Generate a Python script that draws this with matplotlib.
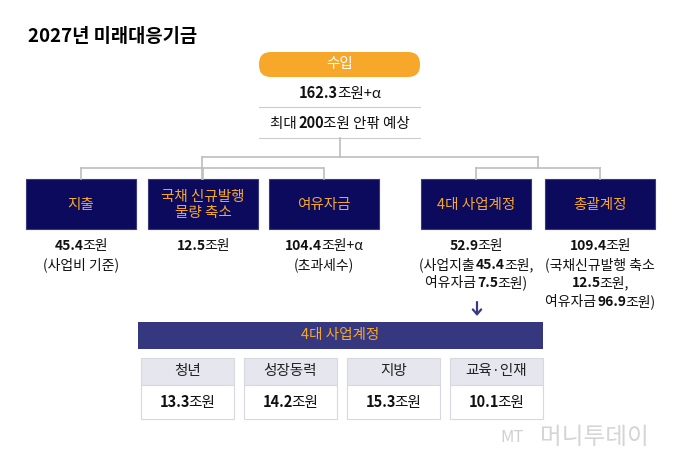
import re
import matplotlib
matplotlib.use("Agg")
import matplotlib.pyplot as plt
from matplotlib.patches import Rectangle, FancyBboxPatch
from matplotlib.offsetbox import TextArea, HPacker, AnnotationBbox

plt.rcParams['font.family'] = ['Noto Sans CJK KR', 'DejaVu Sans']

title = "2027년 미래대응기금"
income_label = "수입"
income_value = "162.3조원+α"
income_note = "최대 200조원 안팎 예상"
top_labels = ["지출", "국채 신규발행\n물량 축소", "여유자금", "4대 사업계정", "총괄계정"]
top_values = [
    ["45.4조원", "(사업비 기준)"],
    ["12.5조원"],
    ["104.4조원+α", "(초과세수)"],
    ["52.9조원", "(사업지출 45.4조원,", "여유자금 7.5조원)"],
    ["109.4조원", "(국채신규발행 축소", "12.5조원,", "여유자금 96.9조원)"],
]
sub_title = "4대 사업계정"
sub_labels = ["청년", "성장동력", "지방", "교육·인재"]
sub_values = ["13.3조원", "14.2조원", "15.3조원", "10.1조원"]

NAVY = "#0c0a5c"
ORANGE = "#f7a82a"
GRAY = "#bdbdbd"

fig = plt.figure(figsize=(6.8, 4.63), dpi=100)
ax = fig.add_axes([0, 0, 1, 1])
ax.set_xlim(0, 680); ax.set_ylim(463, 0); ax.axis('off')

def rich(x, y, s, size=10):
    parts = re.split(r'(\d+(?:\.\d+)?)', s)
    boxes = []
    for p in parts:
        if not p:
            continue
        bold = bool(re.fullmatch(r'\d+(?:\.\d+)?', p))
        p = p.replace(' ', '\u00a0')
        boxes.append(TextArea(p, textprops=dict(fontsize=size, color='#111111',
                                                fontweight='bold' if bold else 'normal')))
    pk = HPacker(children=boxes, pad=0, sep=-1, align='baseline')
    ab = AnnotationBbox(pk, (x, y), frameon=False, box_alignment=(0.5, 0.5), pad=0)
    ax.add_artist(ab)

ax.text(28, 37, title, fontsize=13.5, fontweight='bold', va='center', ha='left')

ax.add_patch(FancyBboxPatch((259, 52), 161, 25, boxstyle="round,pad=0,rounding_size=12",
                            fc=ORANGE, ec='none'))
ax.text(340, 64, income_label, color='white', fontsize=10.5, ha='center', va='center')
rich(340, 93, income_value, 10.5)
ax.plot([259, 420], [107, 107], color='#cccccc', lw=0.8)
rich(340, 123, income_note, 10.5)
ax.plot([259, 420], [138, 138], color='#cccccc', lw=0.8)

lc = dict(color=GRAY, lw=1.2)
ax.plot([340, 340], [138, 157], **lc)
ax.plot([202, 538], [157, 157], **lc)
ax.plot([202, 202], [157, 179], **lc)
ax.plot([538, 538], [157, 168], **lc)
ax.plot([81, 323], [168, 168], **lc)
ax.plot([476, 600], [168, 168], **lc)
lefts = [26, 148, 269, 421, 545]
w = 110
for i, (l, lab, vals) in enumerate(zip(lefts, top_labels, top_values)):
    cx = l + w / 2
    ax.plot([cx, cx], [168, 179], **lc)
    ax.add_patch(Rectangle((l, 179), w, 50, fc=NAVY, ec='#3a3a80', lw=0.8))
    ax.text(cx, 205, lab, color=ORANGE, fontsize=10.5, ha='center', va='center', linespacing=1.1)
    for j, v in enumerate(vals):
        rich(cx, 246 + j * 18.5, v, 10)

ax.annotate("", xy=(477, 316), xytext=(477, 302),
            arrowprops=dict(arrowstyle='->,head_width=0.3,head_length=0.35', color='#3a3a80',
                            lw=1.6, shrinkA=0, shrinkB=0))
ax.add_patch(Rectangle((138, 322), 405, 27, fc='#35377f', ec='none'))
ax.text(340, 335, sub_title, color=ORANGE, fontsize=10.5, ha='center', va='center')
sub_l = [141, 244, 347, 450]
for l, lab, v in zip(sub_l, sub_labels, sub_values):
    ax.add_patch(Rectangle((l, 358), 93, 27, fc='#e6e6ef', ec='#d8d8e0', lw=0.8))
    ax.add_patch(Rectangle((l, 385), 93, 34, fc='white', ec='#d8d8e0', lw=0.8))
    ax.text(l + 46.5, 371, lab, fontsize=10.5, ha='center', va='center', color='#222222')
    rich(l + 46.5, 402, v, 10.5)

ax.text(500, 437, "MT", fontsize=12, style='italic', color='#d0d0d0', ha='left', va='center')
ax.text(540, 437, "머니투데이", fontsize=17, color='#d4d4d4', ha='left', va='center')

fig.savefig("out.png", dpi=100)
